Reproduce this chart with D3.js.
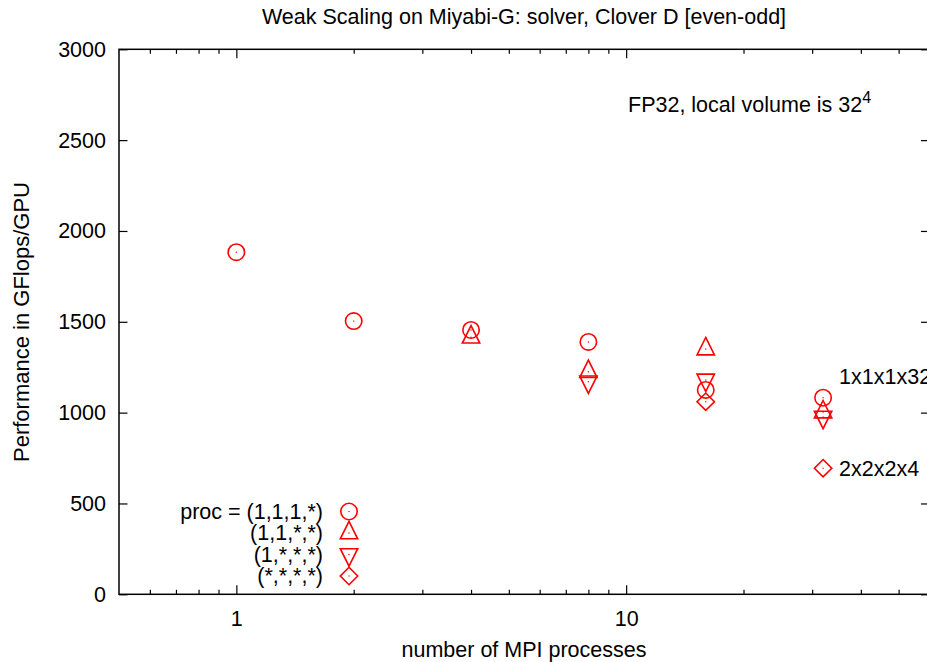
<!DOCTYPE html>
<html>
<head>
<meta charset="utf-8">
<script src="https://cdn.jsdelivr.net/npm/d3@7"></script>
<style>
  html, body { margin: 0; padding: 0; background: #fff; }
  svg { display: block; font-family: "Liberation Sans", Arial, Helvetica, sans-serif; }
</style>
</head>
<body>
<svg id="chart" width="927" height="662"></svg>
<script>
// Weak-scaling measurements: sustained GFlops per GPU vs. number of MPI processes
const procs1111 = [1, 2, 4, 8, 16, 32];
const perf1111 = [1883, 1504, 1455, 1389, 1125, 1082];   // proc = (1,1,1,*)
const procs11xx = [4, 8, 16, 32];
const perf11xx = [1415, 1225, 1350, 1003];               // proc = (1,1,*,*)
const procs1xxx = [8, 16, 32];
const perf1xxx = [1170, 1180, 976];                       // proc = (1,*,*,*)
const procsXxxx = [16, 32];
const perfXxxx = [1060, 694];                             // proc = (*,*,*,*)

const legendLabels = ["proc = (1,1,1,*)", "(1,1,*,*)", "(1,*,*,*)", "(*,*,*,*)"];
const yTicks = [0, 500, 1000, 1500, 2000, 2500, 3000];
const xMajorTicks = [1, 10];
const xMinorTicks = [0.6, 0.7, 0.8, 0.9, 2, 3, 4, 5, 6, 7, 8, 9, 20, 30, 40, 50];

const titleText = "Weak Scaling on Miyabi-G: solver, Clover D [even-odd]";
const xLabel = "number of MPI processes";
const yLabel = "Performance in GFlops/GPU";

const series = [
  { shape: "circle", xs: procs1111, ys: perf1111 },
  { shape: "triUp", xs: procs11xx, ys: perf11xx },
  { shape: "triDown", xs: procs1xxx, ys: perf1xxx },
  { shape: "diamond", xs: procsXxxx, ys: perfXxxx }
];

const svg = d3.select("#chart");
const plotLeft = 119, plotRight = 929.5, plotTop = 49.3, plotBottom = 594.3;
const x = d3.scaleLog().domain([0.5, 60]).range([plotLeft, plotRight]);
const y = d3.scaleLinear().domain([0, 3000]).range([plotBottom, plotTop]);
const RED = "#ff0000";
const FS = 21.5;

// markers (open symbols with a centre dot)
const s = 8.7;
function markerPath(shape) {
  switch (shape) {
    case "triUp": return `M0,${-4/3*s}L${s},${2/3*s}L${-s},${2/3*s}Z`;
    case "triDown": return `M0,${4/3*s}L${s},${-2/3*s}L${-s},${-2/3*s}Z`;
    case "diamond": return `M0,${-s}L${s},0L0,${s}L${-s},0Z`;
  }
  return null;
}
function drawMarker(g, shape, cx, cy) {
  const m = g.append("g").attr("transform", `translate(${cx},${cy})`);
  if (shape === "circle") {
    m.append("circle").attr("r", 8.2).attr("fill", "none").attr("stroke", RED).attr("stroke-width", 1.6);
  } else {
    m.append("path").attr("d", markerPath(shape)).attr("fill", "none")
      .attr("stroke", RED).attr("stroke-width", 1.6).attr("stroke-linejoin", "miter");
  }
  m.append("rect").attr("x", -0.6).attr("y", -0.6).attr("width", 1.2).attr("height", 1.2).attr("fill", RED);
}

// axes frame
const axisG = svg.append("g");
axisG.append("rect").attr("x", plotLeft).attr("y", plotTop)
  .attr("width", plotRight - plotLeft).attr("height", plotBottom - plotTop)
  .attr("fill", "none").attr("stroke", "#000").attr("stroke-width", 1.5);

// y ticks (left with labels, mirrored on right)
const yg = axisG.append("g").attr("transform", `translate(${plotLeft},0)`)
  .call(d3.axisLeft(y).tickValues(yTicks).tickSize(-8.5).tickPadding(13).tickFormat(d3.format("d")));
yg.select(".domain").remove();
yg.selectAll("line").attr("stroke", "#000").attr("stroke-width", 1.2);
yg.selectAll("text").attr("font-size", FS).attr("font-family", "Liberation Sans, Arial, sans-serif").attr("fill", "#000");
const yr = axisG.append("g").attr("transform", `translate(${plotRight},0)`)
  .call(d3.axisRight(y).tickValues(yTicks).tickSize(-8.5).tickFormat(""));
yr.select(".domain").remove();
yr.selectAll("line").attr("stroke", "#000").attr("stroke-width", 1.2);

// x ticks: majors with labels, minors, mirrored on top
function xTicks(tvals, size, labels) {
  const gB = axisG.append("g").attr("transform", `translate(0,${plotBottom})`)
    .call(d3.axisBottom(x).tickValues(tvals).tickSize(-size).tickPadding(16)
      .tickFormat(labels ? d3.format("d") : ""));
  gB.select(".domain").remove();
  gB.selectAll("line").attr("stroke", "#000").attr("stroke-width", 1.2);
  gB.selectAll("text").attr("font-size", FS).attr("font-family", "Liberation Sans, Arial, sans-serif").attr("fill", "#000");
  const gT = axisG.append("g").attr("transform", `translate(0,${plotTop})`)
    .call(d3.axisTop(x).tickValues(tvals).tickSize(-size).tickFormat(""));
  gT.select(".domain").remove();
  gT.selectAll("line").attr("stroke", "#000").attr("stroke-width", 1.2);
}
xTicks(xMajorTicks, 9, true);
xTicks(xMinorTicks, 4.5, false);

// titles
svg.append("text").attr("x", 524).attr("y", 24).attr("text-anchor", "middle")
  .attr("font-size", FS).text(titleText);
svg.append("text").attr("x", 524).attr("y", 657).attr("text-anchor", "middle")
  .attr("font-size", FS).text(xLabel);
svg.append("text").attr("transform", "translate(29,322) rotate(-90)").attr("text-anchor", "middle")
  .attr("font-size", 22).text(yLabel);

// annotation
const ann = svg.append("text").attr("x", 628).attr("y", 112).attr("font-size", FS);
ann.append("tspan").text("FP32, local volume is 32");
ann.append("tspan").attr("dy", -9).attr("font-size", 16).text("4");

// data
const dataG = svg.append("g");
series.forEach(sr => {
  sr.xs.forEach((v, i) => drawMarker(dataG, sr.shape, x(v), y(sr.ys[i])));
});

// point labels
svg.append("text").attr("x", x(32) + 16).attr("y", y(perf1111[5]) - 14).attr("font-size", FS).text("1x1x1x32");
svg.append("text").attr("x", x(32) + 16).attr("y", y(perfXxxx[1]) + 7.5).attr("font-size", FS).text("2x2x2x4");

// key
const keyX = 349, keyTextX = 323, keyY0 = 511.5, keyDy = 21.5;
series.forEach((sr, i) => {
  const cy = keyY0 + i * keyDy;
  drawMarker(svg, sr.shape, keyX, cy);
  svg.append("text").attr("x", keyTextX).attr("y", cy + 7).attr("text-anchor", "end")
    .attr("font-size", FS).text(legendLabels[i]);
});
</script>
</body>
</html>
